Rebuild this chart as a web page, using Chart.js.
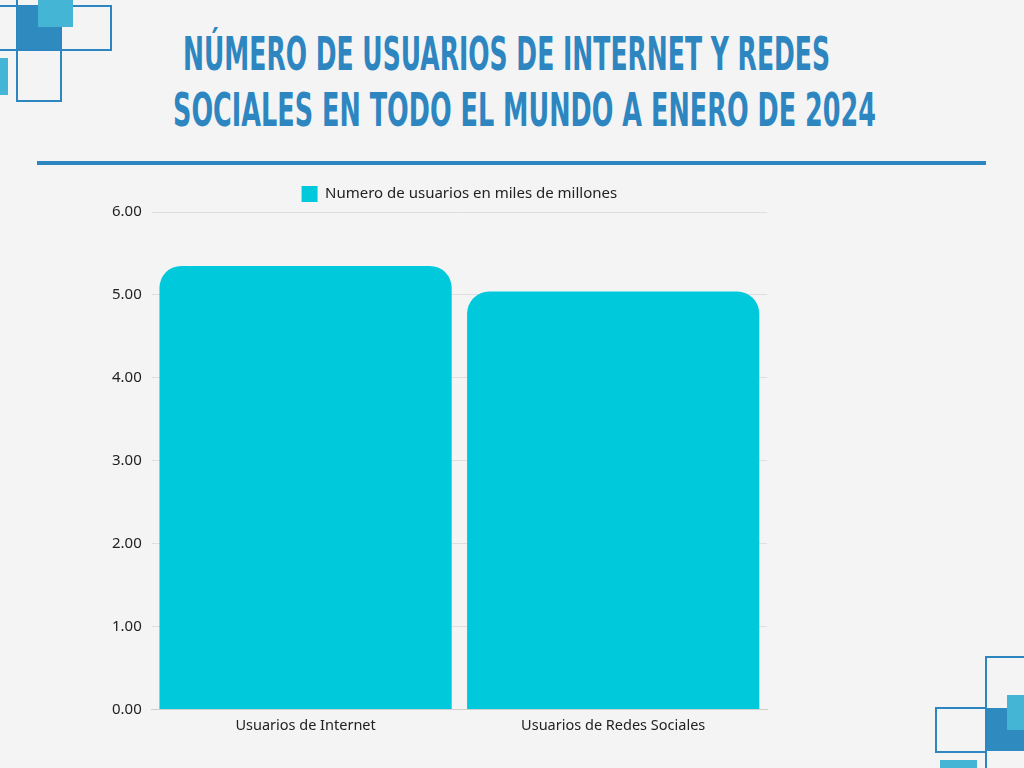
<!DOCTYPE html>
<html>
<head>
<meta charset="utf-8">
<script src="https://cdn.jsdelivr.net/npm/chart.js@4.4.1/dist/chart.umd.min.js"></script>
<style>
  html, body { margin: 0; padding: 0; }
  body { width: 1024px; height: 768px; background: #f4f4f4; position: relative; overflow: hidden; }
  .deco { position: absolute; box-sizing: border-box; }
  .line { border: 2px solid #2e86c1; }
  .dark { background: #2f8bbf; }
  .light { background: #45b5d6; }
  .title { position: absolute; color: #2e86c1; font-family: "Liberation Sans Narrow", "DejaVu Sans Condensed", sans-serif;
    font-weight: bold; font-size: 46px; line-height: 1; white-space: nowrap; transform-origin: left top; }
  .rule { position: absolute; left: 37px; top: 161px; width: 949px; height: 4px; background: #2e86c1; }
  #wrap { position: absolute; left: 0; top: 0; width: 1024px; height: 768px; }
</style>
</head>
<body>
<!-- adornos esquina superior izquierda -->
<div class="deco line" style="left:-4px;top:5px;width:116px;height:46px;"></div>
<div class="deco line" style="left:16px;top:-4px;width:46px;height:106px;"></div>
<div class="deco dark" style="left:17px;top:6px;width:43px;height:43px;"></div>
<div class="deco light" style="left:38px;top:0;width:35px;height:27px;"></div>
<div class="deco light" style="left:0;top:58px;width:8px;height:37px;"></div>
<!-- adornos esquina inferior derecha -->
<div class="deco line" style="left:985px;top:656px;width:50px;height:120px;"></div>
<div class="deco line" style="left:935px;top:707px;width:52px;height:46px;"></div>
<div class="deco dark" style="left:987px;top:708px;width:37px;height:43px;"></div>
<div class="deco light" style="left:1007px;top:695px;width:17px;height:35px;"></div>
<div class="deco light" style="left:940px;top:760px;width:37px;height:8px;"></div>

<div class="title" id="t1" style="left:183px;top:31px;">NÚMERO DE USUARIOS DE INTERNET Y REDES</div>
<div class="title" id="t2" style="left:173px;top:87px;">SOCIALES EN TODO EL MUNDO A ENERO DE 2024</div>
<div class="rule"></div>

<div id="wrap"><canvas id="grafico"></canvas></div>

<script>
// datos
const categorias = ['Usuarios de Internet', 'Usuarios de Redes Sociales'];
const usuarios = [5.35, 5.04];
const nombreSerie = 'Numero de usuarios en miles de millones';
const ticksY = [0, 1, 2, 3, 4, 5, 6];

// ajustar ancho de los titulos
const ajustar = (id, ancho) => {
  const el = document.getElementById(id);
  const w = el.getBoundingClientRect().width;
  el.style.transform = 'scaleX(' + (ancho / w) + ')';
};
ajustar('t1', 647);
ajustar('t2', 703);

const fuente = '"Noto Sans", "Open Sans", sans-serif';

// centrar la leyenda sobre el area del grafico
const centrarLeyenda = {
  id: 'centrarLeyenda',
  afterLayout(chart) {
    const lg = chart.legend;
    const area = chart.chartArea;
    const dx = (area.left + area.right) / 2 - (lg.left + lg.right) / 2;
    lg.left += dx;
    lg.right += dx;
  },
};

const ctx = document.getElementById('grafico');
new Chart(ctx, {
  type: 'bar',
  data: {
    labels: categorias,
    datasets: [
      {
        label: nombreSerie,
        data: usuarios,
        backgroundColor: '#00c9db',
        borderRadius: { topLeft: 22, topRight: 22, bottomLeft: 0, bottomRight: 0 },
        borderSkipped: 'start',
        categoryPercentage: 1,
        barPercentage: 0.95,
      },
    ],
  },
  options: {
    responsive: true,
    maintainAspectRatio: false,
    animation: false,
    layout: {
      padding: { left: 102, right: 257, top: 176, bottom: 33 },
    },
    plugins: {
      legend: {
        labels: {
          boxWidth: 16,
          boxHeight: 16,
          color: '#222',
          font: { family: fuente, size: 15 },
        },
      },
      tooltip: { enabled: false },
    },
    scales: {
      x: {
        grid: { display: false },
        border: { color: '#cfcfcf' },
        ticks: { padding: 0, color: '#222', font: { family: fuente, size: 14.5 } },
      },
      y: {
        min: 0,
        max: 6,
        afterBuildTicks: (axis) => {
          axis.ticks = ticksY.map((v) => ({ value: v }));
        },
        grid: { color: '#dedede', drawTicks: false },
        border: { display: false },
        ticks: {
          padding: 10,
          color: '#222',
          font: { family: fuente, size: 15 },
          callback: (v) => Number(v).toFixed(2),
        },
      },
    },
  },
  plugins: [centrarLeyenda],
});
</script>
</body>
</html>
